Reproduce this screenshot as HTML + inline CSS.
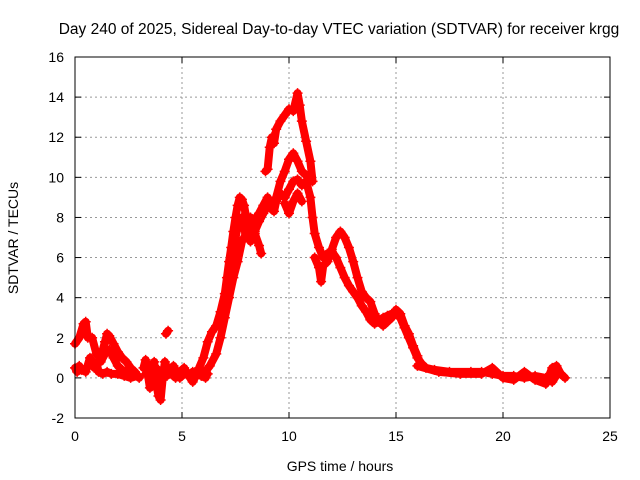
<!DOCTYPE html>
<html><head><meta charset="utf-8"><style>
body{margin:0;background:#fff}
svg{display:block;font-family:"Liberation Sans",sans-serif}
</style></head><body>
<svg id="c" width="640" height="480">
<rect width="640" height="480" fill="#fff"/>
<text x="339" y="34" font-size="15.5" text-anchor="middle">Day 240 of 2025, Sidereal Day-to-day VTEC variation (SDTVAR) for receiver krgg</text>
<text x="340" y="471" font-size="14" text-anchor="middle">GPS time / hours</text>
<text x="18" y="238" font-size="14" text-anchor="middle" transform="rotate(-90 18 238)">SDTVAR / TECUs</text>
<g id="grid"></g><g id="marks"></g>
<rect x="75" y="57" width="535" height="361" fill="none" stroke="#000" stroke-width="1"/>
</svg>
<script>
const xTicks=[0,5,10,15,20,25];
const yTicks=[-2,0,2,4,6,8,10,12,14,16];
const trackEarlyLow=[[0,0.5],[0.1,0.3],[0.2,0.6],[0.3,0.4],[0.5,0.3],[0.7,1.0],[0.9,0.5],[1.0,0.8],[1.1,0.3],[1.3,0.2],[1.5,0.3],[1.7,0.2],[2.0,0.2],[2.3,0.1],[2.6,0.0],[2.9,0.1]];
const trackEarlyHigh=[[0,1.7],[0.2,2.0],[0.4,2.7],[0.5,2.8],[0.6,2.0],[0.8,2.0],[1.0,1.2],[1.2,1.0],[1.4,1.8],[1.5,2.2],[1.6,2.1],[1.8,1.7],[2.0,1.3],[2.2,1.0],[2.4,0.8],[2.6,0.5],[2.8,0.3],[3.0,0.0]];
const trackEarlyMid=[[1.2,0.8],[1.4,1.2],[1.6,1.4],[1.8,1.0],[2.0,0.6],[2.2,0.4],[2.4,0.3]];
const trackQuiet=[[3.2,0.5],[3.3,0.9],[3.4,0.2],[3.5,-0.5],[3.6,0.3],[3.7,0.8],[3.8,-0.3],[3.9,-0.9],[4.0,-1.1],[4.1,0.0],[4.2,0.8],[4.3,0.5],[4.5,0.2],[4.7,0.0],[4.9,0.3],[5.1,0.5],[5.3,0.1],[5.5,0.3],[5.7,0.2],[5.9,0.1],[6.1,0.0]];
const trackQuiet2=[[3.3,0.2],[3.5,0.6],[3.7,0.2],[3.9,0.4],[4.3,0.1],[4.6,0.6],[4.9,0.0],[5.2,0.3],[5.5,-0.2],[5.8,0.4],[6.2,0.2]];
const trackBlob=[[4.25,2.2],[4.35,2.35]];
const trackMain=[[5.8,0.5],[6.0,1.0],[6.2,1.8],[6.4,2.3],[6.6,2.6],[6.8,3.3],[7.0,4.2],[7.1,5.0],[7.2,5.8],[7.3,6.5],[7.4,7.3],[7.5,8.0],[7.6,8.6],[7.7,9.0],[7.8,8.9],[7.9,8.6],[8.0,8.0],[8.2,7.6],[8.4,7.9],[8.6,8.2],[8.8,8.6],[9.0,9.0],[9.2,8.4],[9.3,8.3],[9.4,8.8],[9.6,9.2],[9.8,9.0],[10.0,9.4],[10.2,9.8],[10.4,9.9],[10.6,9.6],[10.8,9.8],[11.0,9.0],[11.1,8.0],[11.2,7.2],[11.4,6.5],[11.6,6.0],[11.8,6.2],[12.0,6.3],[12.2,6.0],[12.4,5.5],[12.6,5.0],[12.8,4.6],[13.0,4.3],[13.2,4.0],[13.4,3.6],[13.6,3.3],[13.8,2.9],[14.0,2.7],[14.2,2.8],[14.4,3.0],[14.6,3.1],[14.8,3.2],[15.0,3.2],[15.2,3.0],[15.4,2.5],[15.6,2.0],[15.8,1.5],[16.0,1.0],[16.2,0.7],[16.4,0.5],[16.8,0.4],[17.5,0.3],[18.5,0.3],[19.0,0.3],[19.5,0.2],[20,0.1],[20.5,0.1],[21,0.0],[21.5,0.1],[22,0.0],[22.3,-0.2],[22.6,0.3],[22.8,0.1]];
const trackRise2=[[6.0,0.2],[6.3,0.6],[6.6,1.2],[6.8,2.0],[7.0,3.0],[7.2,4.0],[7.4,5.0],[7.6,5.8],[7.8,6.8],[8.0,7.2],[8.2,6.8],[8.4,7.2],[8.6,6.6],[8.7,6.2]];
const trackPlateau=[[7.3,5.5],[7.5,7.0],[7.6,7.5],[7.8,8.0],[8.0,7.0],[8.2,8.0],[8.4,7.3],[8.6,7.8],[8.8,8.2],[9.0,8.6]];
const trackPeakHigh=[[8.9,10.3],[9.0,10.4],[9.1,11.5],[9.2,12.0],[9.3,11.7],[9.4,12.4],[9.6,12.8],[9.8,13.1],[10.0,13.4],[10.2,13.3],[10.4,14.2],[10.5,13.6],[10.6,12.8],[10.8,11.8],[11.0,10.8],[11.1,9.8]];
const trackPeakMid=[[9.2,8.5],[9.4,9.0],[9.6,9.8],[9.8,10.3],[10.0,10.9],[10.2,11.2],[10.4,10.8],[10.6,10.3],[10.8,10.1],[11.0,9.8]];
const trackPeakLow=[[9.8,8.7],[10.0,8.2],[10.2,8.8],[10.4,9.2],[10.6,8.8]];
const trackDecay2=[[11.2,6.0],[11.4,5.5],[11.5,4.8],[11.6,5.6],[11.8,5.8],[12.0,6.4],[12.2,7.0],[12.4,7.3],[12.6,7.0],[12.8,6.5],[13.0,5.8],[13.2,5.0],[13.4,4.3],[13.6,4.0],[13.8,3.8],[14.0,3.2],[14.2,2.8],[14.4,2.6],[14.6,2.8],[14.8,3.0],[15.0,3.4],[15.2,3.2],[15.4,2.6],[15.6,2.2],[15.8,1.6],[16.0,1.1]];
const trackTail=[[16,0.6],[17,0.3],[18,0.2],[19,0.2],[19.5,0.5],[20,0.0],[20.5,-0.1],[21,0.3],[21.5,-0.1],[22,-0.3],[22.3,0.5],[22.5,0.6],[22.7,0.2],[22.9,0.0]];
const tracks=[trackEarlyLow,trackEarlyHigh,trackEarlyMid,trackQuiet,trackQuiet2,trackBlob,trackMain,trackRise2,trackPlateau,trackPeakHigh,trackPeakMid,trackPeakLow,trackDecay2,trackTail];

const X0=75,X1=610,Y0=418,Y1=57;
const sx=h=>X0+(h-0)/(25-0)*(X1-X0);
const sy=v=>Y0-(v+2)/(16+2)*(Y0-Y1);
const NS="http://www.w3.org/2000/svg";
const grid=document.getElementById('grid'),marks=document.getElementById('marks');
function mk(t,a){const e=document.createElementNS(NS,t);for(const k in a)e.setAttribute(k,a[k]);return e;}
xTicks.forEach(t=>{const x=sx(t);
 if(t>0&&t<25){const g=mk('line',{x1:x,x2:x,y1:Y1,y2:Y0,stroke:'#999','stroke-dasharray':'2,3'});
 
 grid.appendChild(g);}
 grid.appendChild(mk('line',{x1:x,x2:x,y1:Y0,y2:Y0-6,stroke:'#000'}));
 grid.appendChild(mk('line',{x1:x,x2:x,y1:Y1,y2:Y1+6,stroke:'#000'}));
 const l=mk('text',{x:x,y:Y0+23,'font-size':14,'text-anchor':'middle'});l.textContent=t;
 
 grid.appendChild(l);});
yTicks.forEach(t=>{const y=sy(t);
 if(t>-2&&t<16){const g=mk('line',{x1:X0,x2:X1,y1:y,y2:y,stroke:'#999','stroke-dasharray':'2,3'});
 
 grid.appendChild(g);}
 grid.appendChild(mk('line',{x1:X0,x2:X0+6,y1:y,y2:y,stroke:'#000'}));
 grid.appendChild(mk('line',{x1:X1,x2:X1-6,y1:y,y2:y,stroke:'#000'}));
 const l=mk('text',{x:X0-11,y:y+5,'font-size':14,'text-anchor':'end'});l.textContent=t;
 
 grid.appendChild(l);});
tracks.forEach(tr=>{
 const pl=mk('polyline',{points:tr.map(p=>sx(p[0])+','+sy(p[1])).join(' '),fill:'none',stroke:'#f00','stroke-width':8,'stroke-linejoin':'round','stroke-linecap':'round'});
 
 
 marks.appendChild(pl);
 tr.forEach(p=>{const x=sx(p[0]),y=sy(p[1]);
  const m=mk('path',{d:`M${x-5},${y}H${x+5}M${x},${y-5}V${y+5}`,stroke:'#f00','stroke-width':1.5});
  
  
  marks.appendChild(m);});
});
</script>
</body></html>
